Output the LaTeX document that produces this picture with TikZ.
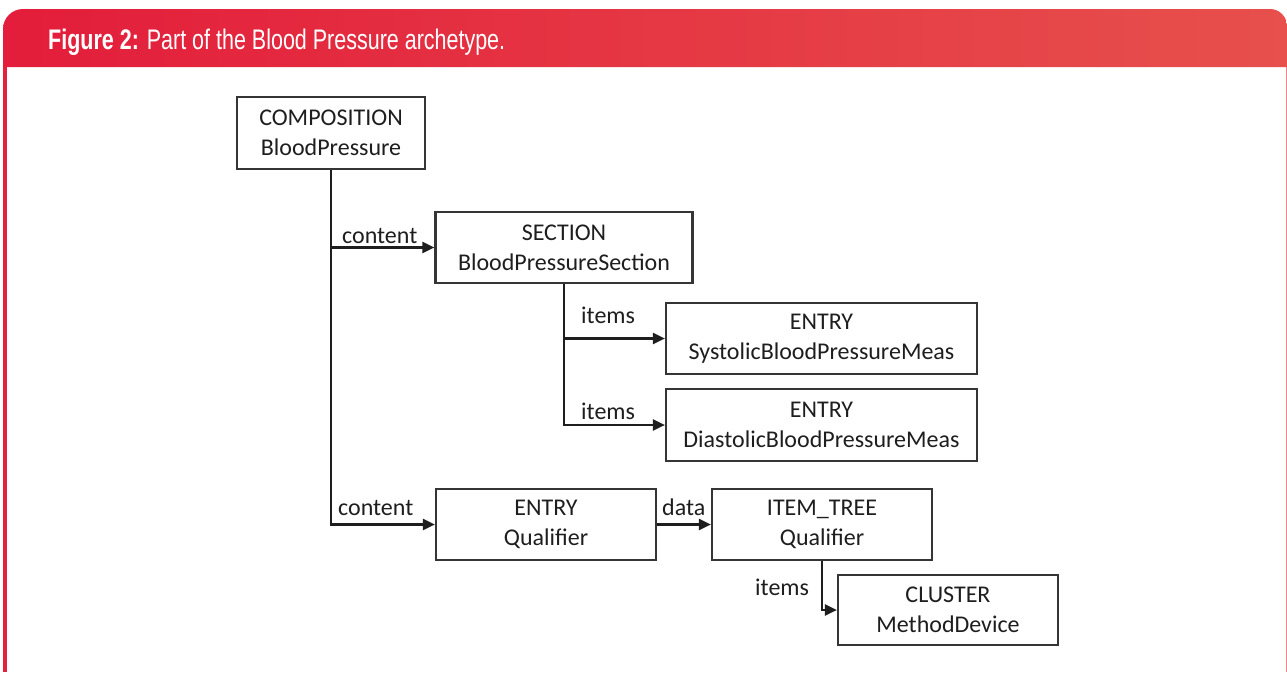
\documentclass[tikz,border=0pt]{standalone}
\usepackage{fontspec}
\setmainfont{Carlito}
\newfontfamily\hdrfont{Liberation Sans}
\usetikzlibrary{arrows.meta,calc}
\definecolor{hdrL}{RGB}{227,29,59}
\definecolor{hdrR}{RGB}{231,80,76}
\definecolor{frameR}{RGB}{228,32,62}
\definecolor{frameP}{RGB}{240,130,145}
\definecolor{ink}{RGB}{30,30,30}
\tikzset{
  box/.style={draw=ink!90, line width=2.2pt, align=center,
    font=\fontsize{24}{30}\selectfont, text=ink, inner sep=0pt},
  conn/.style={draw=ink, line width=2.2pt},
  arr/.style={conn, -{Triangle[length=12pt,width=11pt]}},
  lbl/.style={font=\fontsize{24}{28}\selectfont, text=ink, anchor=base west, inner sep=0pt},
}
\begin{document}
\begin{tikzpicture}[x=1pt,y=-1pt]
\useasboundingbox (0,0) rectangle (1287,672);
\fill[white] (0,0) rectangle (1287,672);
% header band
\shade[left color=hdrL, right color=hdrR]
  (3,67) -- (3,29) arc(180:90:20pt) -- (1270,9) arc(90:0:17pt) -- (1287,67) -- cycle;
\fill[frameR] (3,67) rectangle (7,672);
\draw[frameP, line width=1pt] (1286.5,67) -- (1286.5,672);
\node[anchor=base west, inner sep=0pt, text=white] (title) at (48,49)
  {\resizebox{457pt}{20.5pt}{\hdrfont\textbf{Figure 2:} Part of the Blood Pressure archetype.}};
% boxes
\node[box, minimum width=188pt, minimum height=72pt] (comp) at (331,133) {COMPOSITION\\BloodPressure};
\node[box, minimum width=257pt, minimum height=71pt] (sec) at (564,247.5) {SECTION\\BloodPressureSection};
\node[box, minimum width=311pt, minimum height=71pt] (sys) at (821.5,338.5) {ENTRY\\SystolicBloodPressureMeas};
\node[box, minimum width=311pt, minimum height=72pt] (dia) at (821.5,425) {ENTRY\\DiastolicBloodPressureMeas};
\node[box, minimum width=220pt, minimum height=71pt] (eq) at (546,524.5) {ENTRY\\Qualifier};
\node[box, minimum width=220pt, minimum height=71pt] (it) at (822,524.5) {ITEM\_TREE\\Qualifier};
\node[box, minimum width=220pt, minimum height=70pt] (cl) at (948,610) {CLUSTER\\MethodDevice};
% connectors
\draw[arr] (comp.south) |- (eq.west);
\draw[arr] (comp.south |- sec.west) -- (sec.west);
\draw[arr] (sec.south) |- (dia.west);
\draw[arr] (sec.south |- sys.west) -- (sys.west);
\draw[arr] (eq.east) -- (it.west);
\draw[arr] (it.south) |- (cl.west);
% labels
\node[lbl] (l1) at (342,243) {content};
\node[lbl] (l2) at (581,323) {items};
\node[lbl] (l3) at (581,419) {items};
\node[lbl] (l4) at (338,515) {content};
\node[lbl] (l5) at (662,515) {data};
\node[lbl] (l6) at (755,595) {items};
\end{tikzpicture}
\end{document}
